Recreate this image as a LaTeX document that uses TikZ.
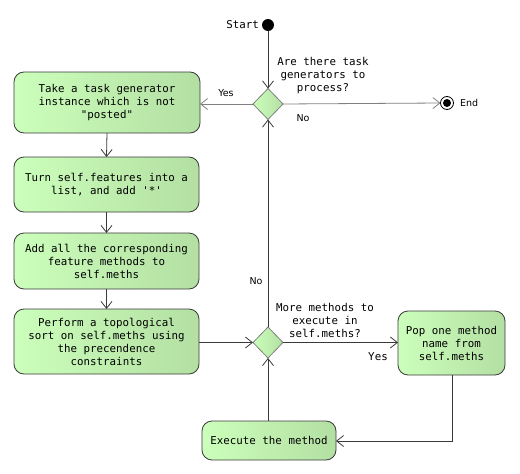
\documentclass[tikz,border=0pt]{standalone}
\usepackage{fontspec}
\setmonofont{DejaVu Sans Mono}
\newfontfamily\labelfont{DejaVu Sans}
\usetikzlibrary{shapes.geometric,arrows.meta}
\definecolor{gLeft}{HTML}{CCFFBB}
\definecolor{gRight}{HTML}{B3DFA3}
\definecolor{edgeDark}{HTML}{3A3A3A}
\definecolor{edgeGrey}{HTML}{808080}
\tikzset{
  x=1pt, y=-1pt,
  every node/.style={inner sep=0pt, outer sep=0pt},
  txt/.style={font=\ttfamily\fontsize{10.8}{13}\selectfont, align=center},
  lbl/.style={font=\labelfont\fontsize{9.5}{11}\selectfont},
  actbox/.style={txt, draw=edgeDark, line width=0.8pt, rounded corners=10pt,
    left color=gLeft, right color=gRight},
  choice/.style={diamond, draw=edgeGrey, line width=0.8pt, minimum width=30pt,
    minimum height=31pt, left color=gLeft, right color=gRight},
  flow/.style={draw=edgeDark, line width=0.8pt,
    -{Straight Barb[length=7pt,width=11pt,line width=0.8pt]}},
  flowgrey/.style={flow, draw=edgeGrey},
}
\begin{document}
\begin{tikzpicture}
\useasboundingbox (0,0) rectangle (520,474);

% initial and final states
\node[circle, fill=black, minimum size=12pt] (start) at (268,25) {};
\node[txt, anchor=east] (startlbl) at (259,25) {Start};
\node[circle, draw=black, line width=0.8pt, minimum size=13pt] (end) at (447,103) {};
\node[circle, fill=black, minimum size=8pt] (enddot) at (447,103) {};
\node[lbl, anchor=west] (endlbl) at (460,103) {End};

% decisions
\node[choice] (d1) at (268,104) {};
\node[txt] (q1) at (323,76) {Are there task\\generators to\\process?};
\node[choice] (d2) at (268,342.5) {};
\node[txt] (q2) at (325,320) {More methods to\\execute in\\self.meths?};

% actions
\node[actbox, minimum width=186pt, minimum height=61pt] (b1) at (107,102.5)
  {Take a task generator\\instance which is not\\"posted"};
\node[actbox, minimum width=185pt, minimum height=55pt] (b2) at (106.5,184.5)
  {Turn self.features into a\\list, and add '*'};
\node[actbox, minimum width=185pt, minimum height=56pt] (b3) at (106.5,261)
  {Add all the corresponding\\feature methods to\\self.meths};
\node[actbox, minimum width=185pt, minimum height=65pt] (b4) at (106.5,341.5)
  {Perform a topological\\sort on self.meths using\\the precendence\\constraints};
\node[actbox, minimum width=107pt, minimum height=64pt] (b5) at (451.5,343)
  {Pop one method\\name from\\self.meths};
\node[actbox, minimum width=134pt, minimum height=39pt] (b6) at (269,440.5)
  {Execute the method};

% connectors
\draw[flow] (start) -- (d1.north);
\draw[flowgrey] (d1.west) -- (d1.west -| b1.east);
\node[lbl] (yes1) at (226,93) {Yes};
\draw[flowgrey] (d1.east) -- (end.west);
\node[lbl] (no1) at (303,118) {No};
\draw[flow] (b1.south) -- (b2.north);
\draw[flow] (b2.south) -- (b3.north);
\draw[flow] (b3.south) -- (b4.north);
\draw[flow] (b4.east |- d2.west) -- (d2.west);
\draw[flow] (d2.north) -- (d1.south);
\node[lbl] (no2) at (256,281) {No};
\draw[flow] (d2.east) -- (b5.west |- d2.east);
\node[txt] (yes2) at (378,357) {Yes};
\coordinate (bend) at (452,441);
\draw[flow] (b5.south -| bend) -- (bend) -- (b6.east |- bend);
\draw[flow] (b6.north -| d2.south) -- (d2.south);
\end{tikzpicture}
\end{document}
